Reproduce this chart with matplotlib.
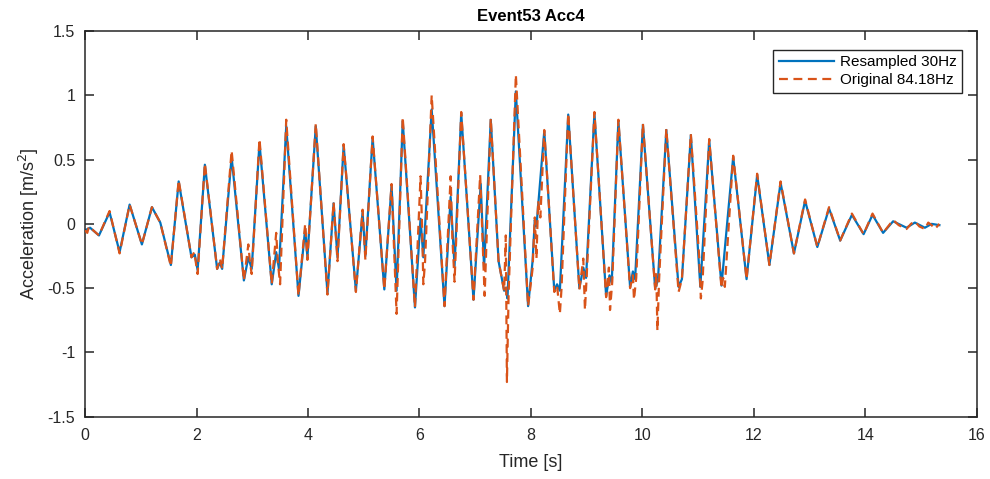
import matplotlib
matplotlib.use("Agg")
import matplotlib.pyplot as plt
import numpy as np

plt.rcParams['font.family'] = ['Liberation Sans', 'DejaVu Sans']

# Resampled 30 Hz signal (key points)
t_resampled = [0.00, 0.09, 0.25, 0.44, 0.62, 0.80, 1.02, 1.20, 1.35, 1.54, 1.68, 1.91, 1.97, 2.02,
               2.15, 2.37, 2.42, 2.46, 2.63, 2.85, 2.93, 2.99, 3.13, 3.35, 3.43, 3.48, 3.61, 3.83,
               3.95, 3.99, 4.14, 4.35, 4.46, 4.53, 4.64, 4.86, 4.98, 5.03, 5.16, 5.37, 5.50, 5.59,
               5.70, 5.92, 6.02, 6.07, 6.22, 6.45, 6.56, 6.63, 6.75, 6.97, 7.10, 7.16, 7.28, 7.42,
               7.52, 7.55, 7.58, 7.73, 7.95, 8.03, 8.07, 8.10, 8.24, 8.42, 8.47, 8.52, 8.67, 8.87,
               8.94, 8.99, 9.14, 9.35, 9.41, 9.45, 9.57, 9.78, 9.83, 9.87, 10.01, 10.23, 10.28, 10.43,
               10.65, 10.71, 10.87, 11.04, 11.20, 11.42, 11.63, 11.87, 12.06, 12.28, 12.48, 12.72,
               12.92, 13.14, 13.35, 13.55, 13.76, 13.97, 14.13, 14.32, 14.50, 14.74, 14.89, 15.07,
               15.19, 15.33]
a_resampled = [-0.05, -0.03, -0.09, 0.09, -0.22, 0.15, -0.16, 0.13, 0.01, -0.32, 0.33, -0.26, -0.24, -0.36,
               0.46, -0.35, -0.30, -0.35, 0.52, -0.44, -0.26, -0.35, 0.63, -0.47, -0.22, -0.35, 0.76, -0.56,
               -0.04, -0.26, 0.76, -0.54, 0.16, -0.26, 0.61, -0.52, 0.09, -0.25, 0.67, -0.51, 0.30, -0.52,
               0.80, -0.65, 0.04, -0.26, 0.89, -0.64, 0.21, -0.33, 0.86, -0.59, 0.31, -0.34, 0.81, -0.29,
               -0.52, -0.50, -0.58, 1.03, -0.64, -0.29, 0.03, -0.02, 0.72, -0.52, -0.47, -0.52, 0.85, -0.50,
               -0.34, -0.42, 0.86, -0.56, -0.40, -0.46, 0.80, -0.49, -0.37, -0.43, 0.77, -0.50, -0.44, 0.73,
               -0.49, -0.43, 0.69, -0.49, 0.65, -0.48, 0.52, -0.43, 0.38, -0.32, 0.32, -0.23,
               0.18, -0.18, 0.12, -0.13, 0.07, -0.08, 0.07, -0.07, 0.02, -0.03, 0.01, -0.03,
               0.00, -0.01]

# Original 84.18 Hz signal (key points)
t_original = [0.00, 0.04, 0.07, 0.12, 0.25, 0.44, 0.62, 0.80, 1.02, 1.20, 1.35, 1.54, 1.68, 1.91,
              1.96, 2.02, 2.15, 2.37, 2.42, 2.46, 2.63, 2.85, 2.93, 2.96, 2.99, 3.13, 3.35, 3.43,
              3.46, 3.50, 3.61, 3.83, 3.95, 3.99, 4.14, 4.35, 4.46, 4.53, 4.64, 4.86, 4.98, 5.03,
              5.16, 5.37, 5.50, 5.59, 5.70, 5.92, 6.02, 6.05, 6.07, 6.10, 6.22, 6.45, 6.56, 6.59,
              6.63, 6.75, 6.97, 7.09, 7.13, 7.17, 7.28, 7.42, 7.52, 7.55, 7.57, 7.60, 7.73, 7.95,
              8.03, 8.07, 8.10, 8.13, 8.17, 8.24, 8.42, 8.47, 8.52, 8.55, 8.67, 8.87, 8.94, 8.97,
              9.00, 9.14, 9.35, 9.40, 9.42, 9.46, 9.57, 9.78, 9.83, 9.85, 9.89, 10.01, 10.23, 10.25,
              10.27, 10.30, 10.43, 10.65, 10.71, 10.87, 11.02, 11.05, 11.08, 11.20, 11.42, 11.45,
              11.48, 11.63, 11.87, 12.06, 12.28, 12.48, 12.72, 12.92, 13.14, 13.35, 13.55, 13.76,
              13.97, 14.13, 14.32, 14.50, 14.60, 14.74, 14.82, 14.89, 14.97, 15.07, 15.13, 15.19,
              15.25, 15.33]
a_original = [-0.05, -0.07, -0.02, -0.04, -0.09, 0.10, -0.23, 0.15, -0.16, 0.13, 0.01, -0.33, 0.34, -0.26,
              -0.22, -0.39, 0.47, -0.35, -0.27, -0.35, 0.57, -0.44, -0.16, -0.30, -0.39, 0.66, -0.47, -0.07,
              -0.30, -0.47, 0.81, -0.56, 0.00, -0.28, 0.78, -0.55, 0.17, -0.29, 0.62, -0.53, 0.11, -0.28,
              0.68, -0.51, 0.31, -0.70, 0.83, -0.65, 0.37, -0.05, -0.47, -0.30, 1.00, -0.64, 0.37, -0.10,
              -0.45, 0.87, -0.59, 0.38, -0.10, -0.56, 0.82, -0.29, -0.52, -0.09, -1.23, -0.55, 1.16, -0.64,
              -0.35, 0.05, -0.27, 0.18, 0.05, 0.73, -0.53, -0.48, -0.70, -0.50, 0.86, -0.51, -0.27, -0.67,
              -0.42, 0.87, -0.57, -0.34, -0.67, -0.45, 0.81, -0.50, -0.40, -0.59, -0.42, 0.78, -0.51, -0.38,
              -0.83, -0.44, 0.74, -0.53, -0.43, 0.70, -0.26, -0.58, -0.45, 0.66, -0.50, -0.42,
              -0.49, 0.53, -0.43, 0.39, -0.32, 0.33, -0.23, 0.19, -0.18, 0.13, -0.13, 0.08,
              -0.08, 0.08, -0.07, 0.03, -0.01, -0.04, 0.00, 0.02, -0.02, -0.04, 0.01, -0.01,
              -0.04, 0.00]

x_ticks = [0, 2, 4, 6, 8, 10, 12, 14, 16]
y_ticks = [-1.5, -1, -0.5, 0, 0.5, 1, 1.5]
y_tick_labels = ['-1.5', '-1', '-0.5', '0', '0.5', '1', '1.5']

fig = plt.figure(figsize=(9.9, 4.79), dpi=100)
ax = fig.add_axes([0.0859, 0.130, 0.9007, 0.8053])

ax.plot(t_resampled, a_resampled, color='#0072BD', lw=1.6, label='Resampled 30Hz', zorder=2,
        solid_joinstyle='round')
ax.plot(t_original, a_original, color='#D95319', lw=1.6, ls=(0, (4, 2.5)), label='Original 84.18Hz',
        zorder=3, dash_joinstyle='round')

ax.set_xlim(0, 16)
ax.set_ylim(-1.5, 1.5)
ax.set_xticks(x_ticks)
ax.set_yticks(y_ticks)
ax.set_yticklabels(y_tick_labels)

dark = '#262626'
for s in ax.spines.values():
    s.set_color(dark)
    s.set_linewidth(1.1)
ax.tick_params(direction='in', length=6.5, width=1.1, colors=dark, labelsize=11.5,
               top=True, right=True)
ax.tick_params(axis='x', pad=8)
ax.tick_params(axis='y', pad=7)

ax.set_xlabel('Time [s]', fontsize=13, color=dark, labelpad=8)
ax.set_ylabel('Acceleration [m/s$^2$]', fontsize=13, color=dark, labelpad=5)
ax.set_title('Event53 Acc4', fontsize=12, fontweight='bold', color='black', pad=7)

leg = ax.legend(loc='upper right', bbox_to_anchor=(0.9832, 0.9507), borderaxespad=0,
                fontsize=11, frameon=True, fancybox=False, handlelength=3.6,
                handletextpad=0.4, borderpad=0.35, labelspacing=0.25)
leg.get_frame().set_edgecolor(dark)
leg.get_frame().set_linewidth(1.0)
leg.get_frame().set_alpha(1)

fig.savefig('out.png', dpi=100)
